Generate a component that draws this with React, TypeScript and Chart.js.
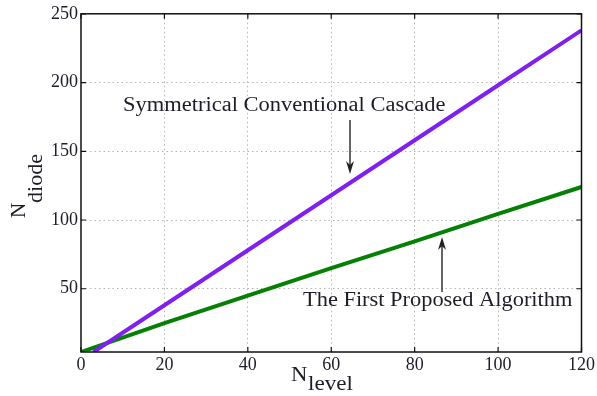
import React, { useEffect, useRef } from "react";
import { Chart, registerables } from "chart.js";

Chart.register(...registerables);

const cascadeLevels = [3, 20, 40, 60, 80, 100, 120];
const cascadeDiodes = [4, 38, 78, 118, 158, 198, 238];
const proposedLevels = [0, 20, 40, 60, 80, 100, 120];
const proposedDiodes = [4, 25, 45, 65, 84.5, 104.5, 124];
const xTicks = [0, 20, 40, 60, 80, 100, 120];
const yTicks = [50, 100, 150, 200, 250];
const cascadeLabel = "Symmetrical Conventional Cascade";
const proposedLabel = "The First Proposed Algorithm";

const SERIF = "'Liberation Serif', 'Times New Roman', serif";
const TEXT = "#1c1c2a";

function drawArrow(ctx: CanvasRenderingContext2D, x: number, y0: number, y1: number) {
  const dir = y1 > y0 ? 1 : -1;
  ctx.save();
  ctx.strokeStyle = "#333";
  ctx.fillStyle = "#222";
  ctx.lineWidth = 1.5;
  ctx.beginPath();
  ctx.moveTo(x, y0);
  ctx.lineTo(x, y1 - dir * 8);
  ctx.stroke();
  ctx.beginPath();
  ctx.moveTo(x, y1);
  ctx.lineTo(x - 4, y1 - dir * 13);
  ctx.lineTo(x, y1 - dir * 9);
  ctx.lineTo(x + 4, y1 - dir * 13);
  ctx.closePath();
  ctx.fill();
  ctx.restore();
}

function stretchedText(ctx: CanvasRenderingContext2D, text: string, x: number, y: number, sx: number) {
  ctx.save();
  ctx.translate(x, y);
  ctx.scale(sx, 1);
  ctx.fillText(text, 0, 0);
  ctx.restore();
}

const framePlugin = {
  id: "frame",
  afterDraw(chart: any) {
    const { ctx, chartArea: a, scales } = chart;
    const xs = scales.x;
    const ys = scales.y;
    ctx.save();
    ctx.strokeStyle = "#111";
    ctx.lineWidth = 1.5;
    ctx.strokeRect(a.left, a.top, a.right - a.left, a.bottom - a.top);
    ctx.lineWidth = 1.2;
    ctx.beginPath();
    xTicks.forEach((v) => {
      const px = xs.getPixelForValue(v);
      ctx.moveTo(px, a.bottom);
      ctx.lineTo(px, a.bottom - 5);
      ctx.moveTo(px, a.top);
      ctx.lineTo(px, a.top + 5);
    });
    yTicks.forEach((v) => {
      const py = ys.getPixelForValue(v);
      ctx.moveTo(a.left, py);
      ctx.lineTo(a.left + 5, py);
      ctx.moveTo(a.right, py);
      ctx.lineTo(a.right - 5, py);
    });
    ctx.stroke();

    ctx.fillStyle = TEXT;
    ctx.font = `20px ${SERIF}`;
    ctx.textBaseline = "alphabetic";
    ctx.textAlign = "left";
    stretchedText(ctx, cascadeLabel, 123, 111, 1.125);
    stretchedText(ctx, proposedLabel, 303, 306, 1.12);
    drawArrow(ctx, 350, 120, 174);
    drawArrow(ctx, 442, 292, 237);

    ctx.font = `21px ${SERIF}`;
    ctx.fillStyle = TEXT;
    stretchedText(ctx, "N", 291, 381, 1.08);
    stretchedText(ctx, "level", 308, 390, 1.1);

    ctx.translate(27, 0);
    ctx.rotate(-Math.PI / 2);
    stretchedText(ctx, "N", -218, -2, 1.0);
    stretchedText(ctx, "diode", -203, 15, 1.05);
    ctx.restore();
  },
};

export default function App() {
  const ref = useRef<HTMLCanvasElement | null>(null);
  useEffect(() => {
    if (!ref.current) return;
    const chart = new Chart(ref.current, {
      type: "line",
      data: {
        datasets: [
          {
            label: cascadeLabel,
            data: cascadeLevels.map((x, i) => ({ x, y: cascadeDiodes[i] })),
            borderColor: "#8020ee",
            borderWidth: 4,
            pointRadius: 0,
            fill: false,
          },
          {
            label: proposedLabel,
            data: proposedLevels.map((x, i) => ({ x, y: proposedDiodes[i] })),
            borderColor: "#058005",
            borderWidth: 4,
            pointRadius: 0,
            fill: false,
          },
        ],
      },
      options: {
        responsive: false,
        animation: false,
        events: [],
        layout: { padding: { left: 0, top: 12, right: 15, bottom: 0 } },
        plugins: { legend: { display: false }, tooltip: { enabled: false } },
        scales: {
          x: {
            type: "linear",
            min: 0,
            max: 120,
            afterBuildTicks: (s: any) => {
              s.ticks = xTicks.map((value) => ({ value }));
            },
            afterFit: (s: any) => {
              s.height = 44;
            },
            ticks: { font: { family: SERIF, size: 18 }, color: TEXT, padding: 2 },
            grid: {
              drawTicks: false,
              tickLength: 0,
              color: (c: any) => (c.tick && (c.tick.value === 0 || c.tick.value === 120) ? "rgba(0,0,0,0)" : "#b5b5b5"),
              lineWidth: 1,
            },
            border: { display: false, dash: [1.5, 3] },
          },
          y: {
            type: "linear",
            min: 4,
            max: 250,
            afterBuildTicks: (s: any) => {
              s.ticks = yTicks.map((value) => ({ value }));
            },
            afterFit: (s: any) => {
              s.width = 81;
            },
            ticks: { font: { family: SERIF, size: 18 }, color: TEXT, padding: 3 },
            grid: {
              drawTicks: false,
              tickLength: 0,
              color: (c: any) => (c.tick && c.tick.value === 250 ? "rgba(0,0,0,0)" : "#b5b5b5"),
              lineWidth: 1,
            },
            border: { display: false, dash: [1.5, 3] },
          },
        },
      },
      plugins: [framePlugin],
    } as any);
    return () => chart.destroy();
  }, []);
  return (
    <div style={{ position: "absolute", left: 0, top: 0, width: 597, height: 396, background: "#fff" }}>
      <canvas ref={ref} width={597} height={396} style={{ width: 597, height: 396 }} />
    </div>
  );
}
